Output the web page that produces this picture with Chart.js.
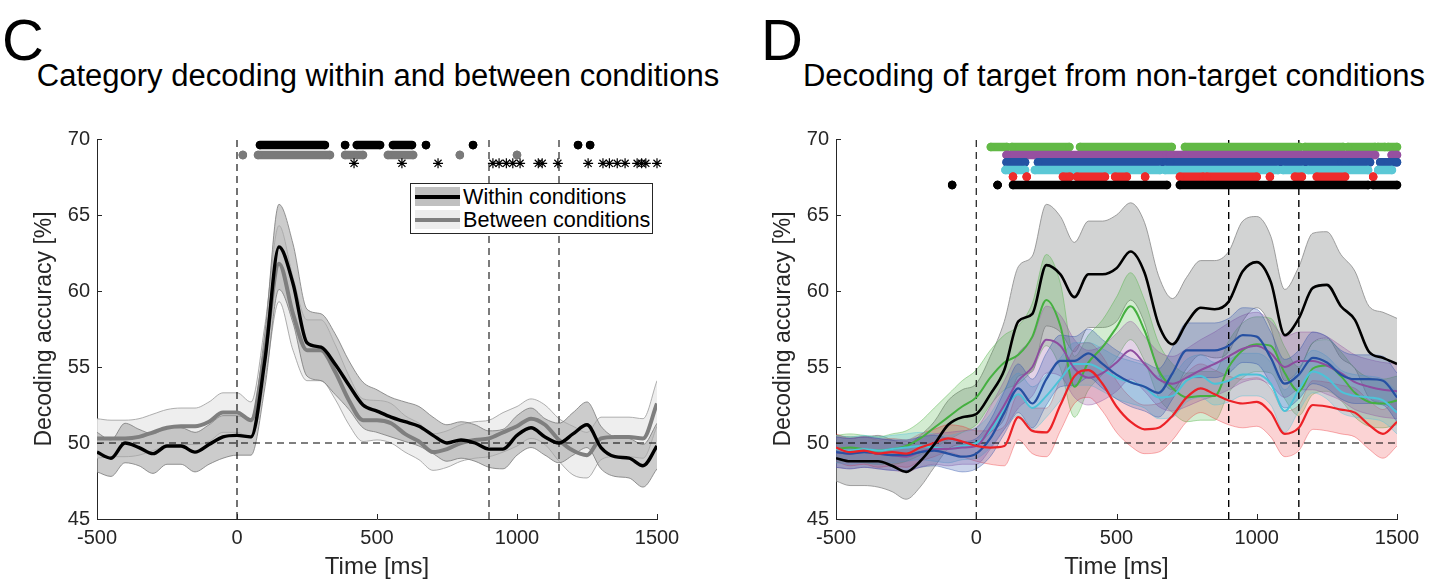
<!DOCTYPE html>
<html><head><meta charset="utf-8">
<script src="https://cdn.jsdelivr.net/npm/chart.js@4.4.1/dist/chart.umd.min.js"></script>
<style>
html,body{margin:0;padding:0;background:#fff;}
body{width:1438px;height:583px;overflow:hidden;position:relative;font-family:"Liberation Sans",Arial,Helvetica,sans-serif;color:#000;}
canvas{position:absolute;}
.letter{position:absolute;font-size:58px;line-height:58px;}
.title{position:absolute;font-size:31px;line-height:31px;white-space:nowrap;transform:translateX(-50%);}
.legend{position:absolute;left:410px;top:183px;width:241px;height:49px;border:1px solid #262626;background:#fff;}
.lrow{position:absolute;left:4px;height:20px;width:236px;}
.lsw{position:absolute;left:0;top:0;width:45px;height:19px;}
.lln{position:absolute;left:0;width:45px;}
.ltx{position:absolute;left:48px;top:-3px;font-size:21.6px;line-height:25px;white-space:nowrap;color:#000;}
</style></head><body>

<div class="letter" style="left:2px;top:11px">C</div>
<div class="letter" style="left:761px;top:11px">D</div>
<div class="title" style="left:378px;top:60px">Category decoding within and between conditions</div>
<div class="title" style="left:1114px;top:60px">Decoding of target from non-target conditions</div>

<canvas id="cL" width="700" height="463" style="left:0;top:120px"></canvas>
<canvas id="cR" width="699" height="463" style="left:739px;top:120px"></canvas>

<div class="legend">
  <div class="lrow" style="top:3px">
    <div class="lsw" style="background:#c0c0c0"></div>
    <div class="lln" style="top:8px;height:4px;background:#000"></div>
    <div class="ltx">Within conditions</div>
  </div>
  <div class="lrow" style="top:26px">
    <div class="lsw" style="background:#ececec"></div>
    <div class="lln" style="top:8px;height:4px;background:#7f7f7f"></div>
    <div class="ltx">Between conditions</div>
  </div>
</div>

<script>
// ---------- DATA ----------
const timeMs = [-500,-450,-400,-350,-300,-250,-200,-150,-100,-50,0,50,100,150,200,250,300,350,400,450,500,550,600,650,700,750,800,850,900,950,1000,1050,1100,1150,1200,1250,1300,1350,1400,1450,1500];
const xTicks = [-500,0,500,1000,1500];
const yTicks = [45,50,55,60,65,70];
const eventTimes = [0,900,1150];
const chanceLevel = 50;

// Panel C
const withinMean  = [49.4,49.0,50.0,49.7,49.3,49.8,49.8,49.4,49.9,50.4,50.5, 50.4,55.5,62.9,60.5,56.6,56.3,55.2,53.8,52.5,52.1, 51.7,51.4,51.1,50.5,50.0,50.2,50.0,49.6,49.6,50.5, 51.0,50.4,50.0,50.6,51.2,49.7,49.1,49.0,48.5,49.8];
const withinErr   = [1.3,1.2,1.3,1.2,1.3,1.2,1.2,1.3,1.3,1.4,1.3, 1.2,1.8,2.8,2.6,2.2,2.2,2.0,1.6,1.5,1.4, 1.3,1.3,1.3,1.2,1.2,1.2,1.2,1.2,1.3,1.3, 1.3,1.2,1.3,1.4,1.5,1.4,1.3,1.3,1.4,1.5];
const betweenMean = [50.3,50.3,50.3,50.4,50.7,51.0,51.1,51.1,51.4,52.0,52.0, 51.5,56.0,61.8,58.5,56.1,56.1,54.7,52.8,51.5,51.5, 51.3,50.6,50.1,49.4,49.6,50.0,50.2,50.3,50.7,51.1, 51.6,51.2,50.2,49.5,49.2,50.3,50.4,50.4,50.3,52.6];
const betweenErr  = [1.3,1.2,1.2,1.2,1.2,1.2,1.2,1.2,1.3,1.3,1.3, 1.2,1.8,2.5,2.4,2.0,2.0,1.8,1.6,1.4,1.3, 1.3,1.2,1.2,1.2,1.2,1.2,1.2,1.2,1.3,1.3, 1.3,1.3,1.4,1.6,1.5,1.4,1.3,1.3,1.3,1.5];
const sigWithinRuns  = [[82,314],[386,386],[428,511],[557,625],[675,675],[843,843],[1218,1218],[1261,1261]];
const sigBetweenRuns = [[21,21],[75,332],[386,450],[539,629],[796,796],[1000,1000]];
const sigDiffTimes   = [418,589,718,914,936,962,985,1011,1076,1090,1146,1254,1307,1330,1358,1386,1429,1445,1460,1500];
const sigRowY = [69.6, 68.95, 68.4];

// Panel D
const blackMean  = [49.0,48.8,48.8,48.8,48.5,48.1,48.8,49.9,51.2,51.7,51.9, 53.2,54.8,58.0,58.5,61.7,61.1,59.6,61.1,61.1,61.5, 62.6,61.2,57.8,56.5,57.9,58.9,58.8,59.3,61.3,61.9, 60.6,57.1,58.2,60.2,60.4,59.0,58.1,56.0,55.6,55.2];
const blackErr   = [1.5,1.6,1.6,1.7,1.7,1.8,1.7,1.5,1.6,1.8,2.0, 2.5,3.2,3.6,3.8,4.0,3.8,3.6,3.5,3.5,3.5, 3.2,3.3,3.2,3.0,3.0,3.1,3.2,3.3,3.3,3.0, 3.0,3.0,3.4,3.6,3.5,3.4,3.2,3.0,3.0,3.0];
const greenMean  = [49.6,49.7,49.6,49.5,49.6,49.8,50.3,51.0,51.7,52.4,53.0, 54.3,55.3,55.8,57.0,59.4,57.7,53.7,55.3,56.3,57.6, 59.0,57.4,54.8,53.6,53.0,53.1,53.1,55.0,56.1,56.5, 56.4,54.6,53.4,54.9,55.1,54.4,53.3,52.7,52.6,52.8];
const greenErr   = [0.9,0.9,0.9,0.9,1.0,1.0,1.1,1.3,1.5,1.7,1.8, 1.8,1.8,1.9,2.2,3.0,2.8,2.0,1.8,1.8,2.0, 2.2,2.0,1.8,1.6,1.6,1.6,1.6,1.7,1.8,1.8, 1.8,1.7,1.6,1.7,1.7,1.6,1.6,1.6,1.6,1.6];
const purpleMean = [49.4,49.3,49.4,49.3,49.2,49.1,49.4,49.6,49.6,49.7,49.8, 51.0,52.5,54.1,55.0,56.8,56.4,54.9,54.3,54.6,55.3, 56.1,55.2,54.2,53.9,54.3,54.8,55.2,55.7,56.2,56.4, 55.9,55.0,55.4,55.4,55.1,54.6,54.0,53.7,53.5,53.4];
const purpleErr  = [1.0,1.0,1.0,1.0,1.0,1.0,1.0,1.0,1.1,1.1,1.2, 1.4,1.6,1.8,1.9,2.2,2.0,1.9,1.8,1.8,1.9, 1.9,1.8,1.8,1.8,1.9,2.0,2.1,2.2,2.2,2.2, 2.1,2.0,1.9,1.9,1.9,1.8,1.8,1.8,1.8,1.8];
const blueMean   = [49.4,49.3,49.4,49.3,49.2,49.2,49.4,49.5,49.3,49.1,49.3, 50.3,52.0,53.6,52.6,54.2,55.4,55.4,55.9,55.2,54.5, 54.0,53.7,53.3,54.6,56.1,56.1,56.1,56.4,57.1,57.0, 55.6,53.9,54.5,55.6,55.3,54.5,54.2,54.2,54.1,53.0];
const blueErr    = [1.0,1.0,1.0,1.0,1.0,1.0,1.0,1.0,1.0,1.0,1.0, 1.2,1.4,1.6,1.6,1.7,1.7,1.6,1.6,1.6,1.6, 1.6,1.6,1.6,1.7,1.8,1.8,1.8,1.8,1.8,1.8, 1.7,1.6,1.6,1.7,1.7,1.6,1.6,1.6,1.6,1.6];
const cyanMean   = [49.6,49.5,49.6,49.5,49.6,49.7,49.8,49.7,49.6,49.8,50.0, 50.8,52.2,53.2,52.3,53.1,54.2,55.2,55.2,54.8,54.3, 54.0,53.7,53.0,53.1,54.1,54.4,53.9,54.1,54.5,54.5, 53.9,52.1,53.5,54.7,54.3,53.4,53.1,53.0,52.8,52.0];
const cyanErr    = [0.9,0.9,0.9,0.9,0.9,0.9,0.9,0.9,0.9,0.9,1.0, 1.1,1.3,1.4,1.4,1.4,1.4,1.4,1.4,1.4,1.4, 1.4,1.4,1.4,1.4,1.4,1.4,1.4,1.4,1.4,1.4, 1.4,1.4,1.4,1.4,1.4,1.4,1.4,1.4,1.4,1.4];
const redMean    = [49.7,49.4,49.5,49.3,49.4,49.3,49.7,50.0,50.3,50.1,49.8, 49.7,49.8,51.7,50.8,50.7,52.5,54.4,54.8,53.9,52.4, 51.4,50.9,51.0,51.8,53.0,53.6,53.2,52.8,52.6,52.7, 52.0,50.6,51.0,52.5,52.4,52.2,52.0,51.2,50.6,51.4];
const redErr     = [0.9,0.9,0.9,0.9,0.9,0.9,0.9,0.9,0.9,1.0,1.0, 1.1,1.3,1.5,1.5,1.6,1.7,1.8,1.8,1.8,1.7, 1.6,1.6,1.6,1.6,1.6,1.6,1.6,1.6,1.6,1.6, 1.6,1.5,1.5,1.6,1.6,1.6,1.6,1.6,1.6,1.6];

const sigGreenRuns  = [[52,109],[127,332],[370,697],[744,1154],[1172,1308],[1325,1422],[1432,1457],[1468,1500]];
const sigPurpleRuns = [[108,679],[691,733],[744,1422],[1481,1500]];
const sigBlueRuns   = [[108,174],[220,679],[691,1303],[1315,1404],[1440,1500]];
const sigCyanRuns   = [[104,174],[209,655],[673,1076],[1094,1165],[1183,1397],[1433,1482]];
const sigRedRuns    = [[131,131],[180,180],[309,334],[359,459],[495,537],[602,602],[726,809],[822,1000],[1047,1047],[1136,1161],[1214,1315],[1415,1415]];
const sigBlackRuns  = [[-86,-86],[76,76],[131,680],[726,1397],[1415,1500]];
const sigRowYD = [69.47, 68.95, 68.47, 67.96, 67.52, 66.97];

// ---------- HELPERS ----------
const FONT = '"Liberation Sans", Arial, Helvetica, sans-serif';
const AX = '#262626';

function lineSet(mean, color, width, order) {
  return {data: timeMs.map((t,i)=>({x:t,y:mean[i]})), borderColor: color, borderWidth: width,
          pointRadius: 0, fill: false, order, cubicInterpolationMode: 'monotone'};
}
function bandSets(mean, err, fillColor, edgeColor, order) {
  return [
    {data: timeMs.map((t,i)=>({x:t,y:mean[i]-err[i]})), borderColor: edgeColor, borderWidth: 0.8,
     pointRadius: 0, fill: false, order, cubicInterpolationMode: 'monotone'},
    {data: timeMs.map((t,i)=>({x:t,y:mean[i]+err[i]})), borderColor: edgeColor, borderWidth: 0.8,
     pointRadius: 0, fill: '-1', backgroundColor: fillColor, order, cubicInterpolationMode: 'monotone'}
  ];
}
function sigSet(runs, yVal, color, order) {
  const data = [];
  runs.forEach(r => { data.push({x:r[0],y:yVal},{x:r[1],y:yVal},{x:r[1]+0.5,y:null}); });
  return {data, borderColor: color, backgroundColor: color, borderWidth: 8.5, borderCapStyle: 'round',
          pointRadius: 4.2, pointBorderWidth: 0, pointBackgroundColor: color, fill: false,
          order, clip: false, spanGaps: false, tension: 0};
}
function eventSets(color1, color2) {
  const s = eventTimes.map((t,k)=>({data:[{x:t,y:45},{x:t,y:70}], borderColor: k===0?color1:color2,
     borderWidth: k===0?1.1:1.4, borderDash:[7,5], pointRadius:0, fill:false, order:40, tension:0}));
  s.push({data:[{x:-500,y:chanceLevel},{x:1500,y:chanceLevel}], borderColor:'#000', borderWidth:1.1,
          borderDash:[7,5], pointRadius:0, fill:false, order:40, tension:0});
  return s;
}

const inTicks = {
  id: 'inTicks',
  afterDraw(chart) {
    const ctx = chart.ctx, a = chart.chartArea, xs = chart.scales.x, ys = chart.scales.y;
    ctx.save(); ctx.strokeStyle = AX; ctx.lineWidth = 1; ctx.beginPath();
    xTicks.forEach(v => { const p = Math.round(xs.getPixelForValue(v)) + 0.5; ctx.moveTo(p, a.bottom); ctx.lineTo(p, a.bottom - 5); });
    yTicks.forEach(v => { const p = Math.round(ys.getPixelForValue(v)) + 0.5; ctx.moveTo(a.left, p); ctx.lineTo(a.left + 5, p); });
    ctx.stroke(); ctx.restore();
  }
};

function makeOptions(padRight) {
  return {
    animation: false, responsive: false, devicePixelRatio: 1,
    layout: {padding: {left: 0, right: padRight, top: 19, bottom: 0}},
    plugins: {legend: {display: false}, tooltip: {enabled: false}, title: {display: false}},
    events: [],
    scales: {
      x: {type: 'linear', min: -500, max: 1500,
          afterBuildTicks: s => { s.ticks = xTicks.map(v => ({value: v})); },
          ticks: {font: {family: FONT, size: 20}, color: AX, padding: 7, maxRotation: 0, autoSkip: false,
                  callback: v => String(v)},
          grid: {display: true, drawOnChartArea: false, drawTicks: false},
          border: {display: true, color: AX, width: 1},
          title: {display: true, text: 'Time [ms]', font: {family: FONT, size: 24}, color: AX, padding: {top: 0, bottom: 1}},
          afterFit: s => { s.height = 64; }},
      y: {type: 'linear', min: 45, max: 70,
          afterBuildTicks: s => { s.ticks = yTicks.map(v => ({value: v})); },
          ticks: {font: {family: FONT, size: 20}, color: AX, padding: 7, callback: v => String(v)},
          grid: {display: true, drawOnChartArea: false, drawTicks: false},
          border: {display: true, color: AX, width: 1},
          title: {display: true, text: 'Decoding accuracy [%]', font: {family: FONT, size: 23}, color: AX, padding: {top: 31, bottom: 0}},
          afterFit: s => { s.width = 97; }}
    }
  };
}

// ---------- PANEL C ----------
const dsL = [];
dsL.push(...bandSets(betweenMean, betweenErr, 'rgba(236,236,236,0.9)', '#9a9a9a', 90));
dsL.push(...bandSets(withinMean, withinErr, 'rgba(170,170,170,0.6)', '#7a7a7a', 80));
dsL.push(...eventSets('#000', '#444'));
dsL.push(lineSet(betweenMean, '#7f7f7f', 4, 20));
dsL.push(lineSet(withinMean, '#000', 3.4, 10));
dsL.push(sigSet(sigBetweenRuns, sigRowY[1], '#7a7a7a', 5));
dsL.push(sigSet(sigWithinRuns, sigRowY[0], '#000', 4));
dsL.push({data: sigDiffTimes.map(t => ({x:t, y:sigRowY[2]})), showLine: false, pointStyle: 'star',
          pointRadius: 5, pointBorderWidth: 1.2, pointBorderColor: '#000', borderColor: '#000', order: 3, clip: false});

new Chart(document.getElementById('cL'), {type: 'line', data: {datasets: dsL}, options: makeOptions(43), plugins: [inTicks]});

// ---------- PANEL D ----------
const dsR = [];
dsR.push(...bandSets(blackMean, blackErr, 'rgba(165,167,167,0.5)', '#8a8a8a', 100));
dsR.push(...bandSets(greenMean, greenErr, 'rgba(80,180,70,0.25)', 'rgba(80,180,70,0.55)', 95));
dsR.push(...bandSets(redMean, redErr, 'rgba(236,34,39,0.2)', 'rgba(236,34,39,0.45)', 92));
dsR.push(...bandSets(cyanMean, cyanErr, 'rgba(85,195,215,0.28)', 'rgba(85,195,215,0.55)', 90));
dsR.push(...bandSets(purpleMean, purpleErr, 'rgba(145,81,161,0.25)', 'rgba(145,81,161,0.5)', 88));
dsR.push(...bandSets(blueMean, blueErr, 'rgba(45,80,170,0.25)', 'rgba(45,80,170,0.5)', 86));
dsR.push(...eventSets('#000', '#000'));
dsR.push(lineSet(greenMean, '#45b040', 2, 30));
dsR.push(lineSet(cyanMean, '#4cc3d8', 2, 28));
dsR.push(lineSet(purpleMean, '#8d4d9f', 2, 26));
dsR.push(lineSet(blueMean, '#2650a2', 2.2, 24));
dsR.push(lineSet(redMean, '#ec2227', 2.2, 22));
dsR.push(lineSet(blackMean, '#000', 2.6, 20));
const sigColors = ['#62b946', '#9650a0', '#2453a3', '#5bc8d6', '#ee2b2b', '#000'];
[sigGreenRuns, sigPurpleRuns, sigBlueRuns, sigCyanRuns, sigRedRuns, sigBlackRuns].forEach((runs, k) => {
  dsR.push(sigSet(runs, sigRowYD[k], sigColors[k], 10 - k));
});

new Chart(document.getElementById('cR'), {type: 'line', data: {datasets: dsR}, options: makeOptions(41), plugins: [inTicks]});
</script>
</body></html>
